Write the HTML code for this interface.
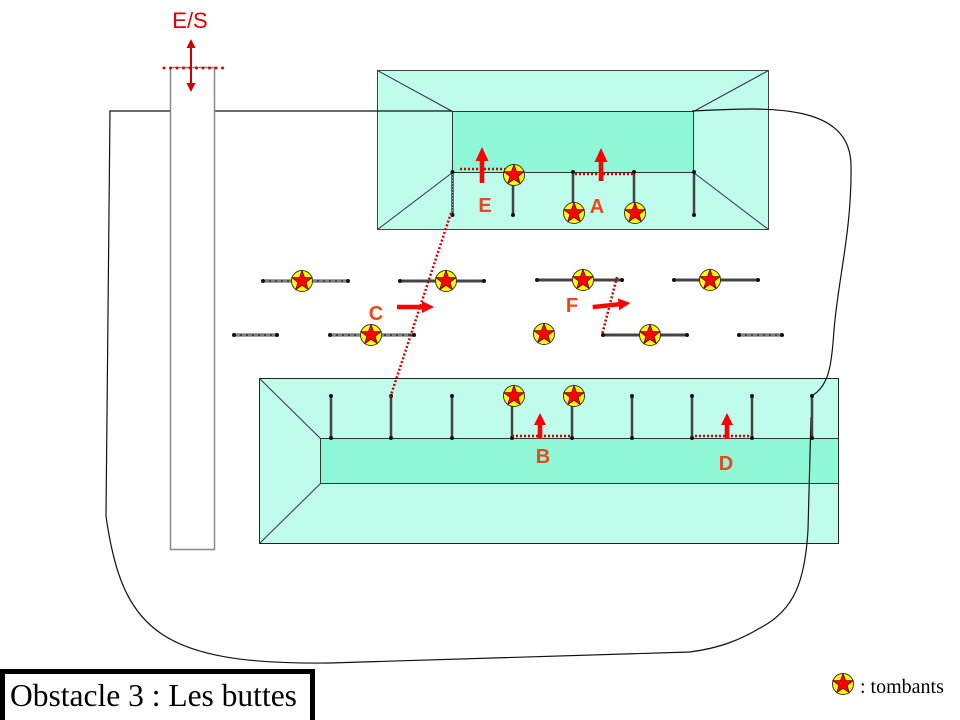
<!DOCTYPE html>
<html><head><meta charset="utf-8"><style>
html,body{margin:0;padding:0;background:#fff;}
svg{display:block;}
</style></head><body>
<svg width="960" height="720" viewBox="0 0 960 720" xmlns="http://www.w3.org/2000/svg">
<defs>
<g id="st">
<circle cx="0" cy="0" r="10.5" fill="#ffff00" stroke="#333" stroke-width="1"/>
<polygon points="0,-10.5 2.53,-3.48 9.99,-3.24 4.09,1.33 6.17,8.49 0,4.3 -6.17,8.49 -4.09,1.33 -9.99,-3.24 -2.53,-3.48" fill="#ff0000" stroke="#660000" stroke-width="0.8"/>
</g>
</defs>
<rect width="960" height="720" fill="#fff"/>

<!-- top box -->
<rect x="377.5" y="70.5" width="391" height="159" fill="#c0fcec" stroke="#444" stroke-width="1"/>
<rect x="452.5" y="111.5" width="241" height="61" fill="#8ef8d9" stroke="#333" stroke-width="1"/>
<g stroke="#333" stroke-width="1">
<line x1="377.5" y1="70.5" x2="452.5" y2="111.5"/>
<line x1="768.5" y1="70.5" x2="693.5" y2="111.5"/>
<line x1="377.5" y1="229.5" x2="452.5" y2="172.5"/>
<line x1="768.5" y1="229.5" x2="693.5" y2="172.5"/>
</g>

<!-- bottom box -->
<rect x="259.5" y="378.5" width="579" height="165" fill="#c0fcec" stroke="#222" stroke-width="1"/>
<rect x="320.5" y="438.5" width="518" height="45" fill="#8ef8d9" stroke="#333" stroke-width="1"/>
<g stroke="#333" stroke-width="1">
<line x1="259.5" y1="378.5" x2="320.5" y2="438.5"/>
<line x1="259.5" y1="543.5" x2="320.5" y2="483.5"/>
</g>

<!-- black path -->
<g fill="none" stroke="#111" stroke-width="1.2">
<path d="M 692,111 C 760,108 850,100 851,165 C 852,230 838,280 834,330 C 832,360 830,385 813,395"/>
<path d="M 811,417 L 808,530 C 805,580 795,610 760,628 C 740,640 720,648 690,652 L 330,663 C 160,665 122,630 106,516 L 110,111 L 170,111"/>
<path d="M 215,111 L 452,111"/>
</g>

<!-- pillar -->
<rect x="170.5" y="67.5" width="44" height="482" fill="#fff" stroke="#888" stroke-width="1.5"/>
<line x1="164" y1="68" x2="223" y2="68" stroke="#e00000" stroke-width="3" stroke-linecap="round" stroke-dasharray="0 6.5"/>
<line x1="191" y1="46" x2="191" y2="85" stroke="#d00000" stroke-width="2"/>
<polygon points="191,39 186.5,48 195.5,48" fill="#d00000"/>
<polygon points="191,92 186.5,83 195.5,83" fill="#d00000"/>
<text x="190" y="28" font-family="Liberation Sans, Arial, sans-serif" font-size="22" fill="#e00000" text-anchor="middle">E/S</text>

<!-- top box posts -->
<g stroke="#444" stroke-width="2.5">
<line x1="452.5" y1="172" x2="452.5" y2="215"/>
<line x1="513" y1="172" x2="513" y2="215"/>
<line x1="573" y1="172" x2="573" y2="215"/>
<line x1="634" y1="172" x2="634" y2="215"/>
<line x1="694" y1="172" x2="694" y2="215"/>
</g>
<line x1="452.5" y1="174" x2="452.5" y2="213" stroke="#aaa" stroke-width="1" stroke-dasharray="1 2"/>
<g fill="#111">
<circle cx="452.5" cy="172" r="2"/><circle cx="452.5" cy="215" r="2"/>
<circle cx="513" cy="172" r="2"/><circle cx="513" cy="215" r="2"/>
<circle cx="573" cy="172" r="2"/><circle cx="573" cy="215" r="2"/>
<circle cx="634" cy="172" r="2"/><circle cx="634" cy="215" r="2"/>
<circle cx="694" cy="172" r="2"/><circle cx="694" cy="215" r="2"/>
</g>

<!-- bottom box posts -->
<g stroke="#444" stroke-width="2.5">
<line x1="331" y1="396" x2="331" y2="438"/>
<line x1="391" y1="396" x2="391" y2="438"/>
<line x1="452" y1="396" x2="452" y2="438"/>
<line x1="512" y1="396" x2="512" y2="438"/>
<line x1="572" y1="396" x2="572" y2="438"/>
<line x1="632" y1="396" x2="632" y2="438"/>
<line x1="692" y1="396" x2="692" y2="438"/>
<line x1="752" y1="396" x2="752" y2="438"/>
<line x1="812" y1="396" x2="812" y2="438"/>
</g>
<g fill="#111">
<circle cx="331" cy="396" r="2"/><circle cx="331" cy="438" r="2"/>
<circle cx="391" cy="396" r="2"/><circle cx="391" cy="438" r="2"/>
<circle cx="452" cy="396" r="2"/><circle cx="452" cy="438" r="2"/>
<circle cx="512" cy="396" r="2"/><circle cx="512" cy="438" r="2"/>
<circle cx="572" cy="396" r="2"/><circle cx="572" cy="438" r="2"/>
<circle cx="632" cy="396" r="2"/><circle cx="632" cy="438" r="2"/>
<circle cx="692" cy="396" r="2"/><circle cx="692" cy="438" r="2"/>
<circle cx="752" cy="396" r="2"/><circle cx="752" cy="438" r="2"/>
<circle cx="812" cy="396" r="2"/><circle cx="812" cy="438" r="2"/>
</g>

<!-- middle segments -->
<g stroke="#444" stroke-width="3">
<line x1="263" y1="281" x2="348" y2="281"/>
<line x1="400" y1="281" x2="484" y2="281"/>
<line x1="537" y1="280" x2="622" y2="280"/>
<line x1="674" y1="280" x2="758" y2="280"/>
<line x1="234" y1="335" x2="277" y2="335"/>
<line x1="330" y1="335" x2="414" y2="335"/>
<line x1="603" y1="335" x2="687" y2="335"/>
<line x1="739" y1="335" x2="782" y2="335"/>
</g>
<g stroke="#bbb" stroke-width="1" stroke-dasharray="4 2">
<line x1="265" y1="281" x2="346" y2="281"/>
<line x1="332" y1="335" x2="412" y2="335"/>
<line x1="236" y1="335" x2="275" y2="335"/>
<line x1="741" y1="335" x2="780" y2="335"/>
</g>
<g fill="#111">
<circle cx="263" cy="281" r="2"/><circle cx="348" cy="281" r="2"/>
<circle cx="400" cy="281" r="2"/><circle cx="484" cy="281" r="2"/>
<circle cx="537" cy="280" r="2"/><circle cx="622" cy="280" r="2"/>
<circle cx="674" cy="280" r="2"/><circle cx="758" cy="280" r="2"/>
<circle cx="234" cy="335" r="2"/><circle cx="277" cy="335" r="2"/>
<circle cx="330" cy="335" r="2"/><circle cx="414" cy="335" r="2"/>
<circle cx="603" cy="335" r="2"/><circle cx="687" cy="335" r="2"/>
<circle cx="739" cy="335" r="2"/><circle cx="782" cy="335" r="2"/>
</g>

<!-- red dotted lines -->
<g stroke="#d00000" stroke-width="2.5" stroke-dasharray="2 2" fill="none">
<line x1="460" y1="169" x2="505" y2="169"/>
<line x1="575" y1="174" x2="633" y2="174"/>
<line x1="512" y1="436" x2="572" y2="436"/>
<line x1="695" y1="436" x2="751" y2="436"/>
<line x1="451" y1="213" x2="390" y2="398"/>
<line x1="617" y1="277" x2="602" y2="335"/>
</g>

<!-- stars -->
<use href="#st" x="514" y="175"/>
<use href="#st" x="574" y="213"/>
<use href="#st" x="635" y="213"/>
<use href="#st" x="302" y="281"/>
<use href="#st" x="446" y="281"/>
<use href="#st" x="583" y="280"/>
<use href="#st" x="710" y="280"/>
<use href="#st" x="371" y="335"/>
<use href="#st" x="544" y="334"/>
<use href="#st" x="650" y="335"/>
<use href="#st" x="514" y="396"/>
<use href="#st" x="574" y="396"/>
<use href="#st" x="843" y="684"/>

<!-- red arrows -->
<g fill="#ff0000">
<polygon points="482,147 488.5,161 484.3,161 484.3,183 479.7,183 479.7,161 475.5,161"/>
<polygon points="601,148 607.5,162 603.3,162 603.3,181 598.7,181 598.7,162 594.5,162"/>
<polygon points="540,413 546,425 542.3,425 542.3,439 537.7,439 537.7,425 534,425"/>
<polygon points="727,413 733,425 729.3,425 729.3,439 724.7,439 724.7,425 721,425"/>
<polygon points="434,307 422,301 422,304.8 397,304.8 397,309.2 422,309.2 422,313"/>
<polygon points="631,307 619,301 619,304.8 593,304.8 593,309.2 619,309.2 619,313" transform="rotate(-6 593 310)"/>
</g>

<!-- labels -->
<g font-family="Liberation Sans, Arial, sans-serif" font-size="20" font-weight="bold" fill="#e8481c" text-anchor="middle">
<text x="485" y="212">E</text>
<text x="597" y="213">A</text>
<text x="543" y="463">B</text>
<text x="726" y="470">D</text>
<text x="376" y="320">C</text>
<text x="572" y="312">F</text>
</g>

<!-- title -->
<rect x="2.5" y="671.5" width="310" height="51" fill="#fff" stroke="#000" stroke-width="5"/>
<text x="10" y="706" font-family="Liberation Serif, Times New Roman, serif" font-size="31.5" fill="#000">Obstacle 3 : Les buttes</text>

<text x="860" y="693" font-family="Liberation Serif, Times New Roman, serif" font-size="20" fill="#000">: tombants</text>
</svg>
</body></html>
